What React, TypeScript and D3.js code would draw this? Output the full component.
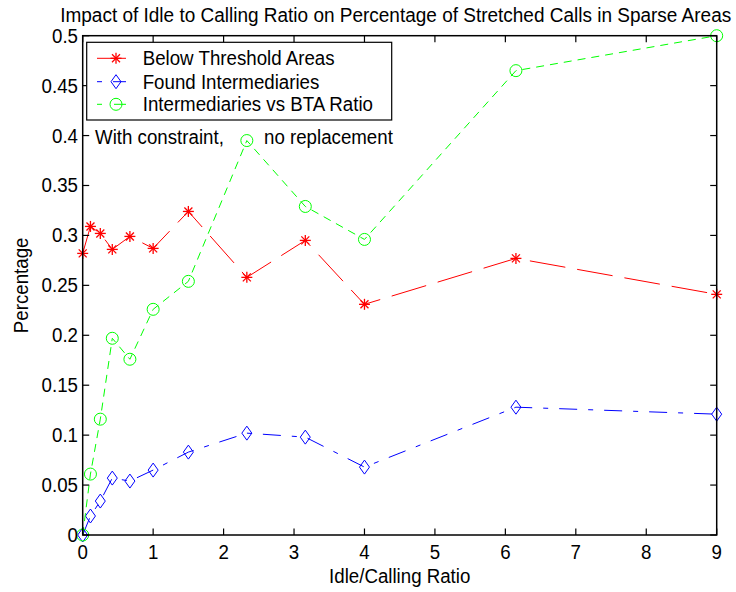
import React from "react";
import * as d3 from "d3";

const xTicks = [0, 1, 2, 3, 4, 5, 6, 7, 8, 9];
const yTicks = [0, 0.05, 0.1, 0.15, 0.2, 0.25, 0.3, 0.35, 0.4, 0.45, 0.5];
const yTickLabels = ["0", "0.05", "0.1", "0.15", "0.2", "0.25", "0.3", "0.35", "0.4", "0.45", "0.5"];

const ratios = [0, 0.11, 0.25, 0.42, 0.67, 1, 1.5, 2.33, 3.16, 4, 6.15, 9];
const belowThreshold = [0.282, 0.309, 0.302, 0.286, 0.299, 0.287, 0.324, 0.258, 0.295, 0.231, 0.277, 0.241];
const foundIntermediaries = [0, 0.019, 0.034, 0.057, 0.054, 0.065, 0.083, 0.102, 0.098, 0.068, 0.128, 0.121];
const interVsBta = [0, 0.061, 0.116, 0.197, 0.176, 0.226, 0.254, 0.395, 0.329, 0.296, 0.465, 0.5];

const seriesNames = ["Below Threshold Areas", "Found Intermediaries", "Intermediaries vs BTA Ratio"];

const W = 736;
const H = 592;
const L = 82.7, R = 716.7, T = 35.7, B = 535;
const FONT = "'Liberation Sans', Arial, Helvetica, sans-serif";
const SY = 1.07;
const FS = 18.7;

function Txt({ x, y, anchor, size, rotate, children }: { x: number; y: number; anchor?: string; size?: number; rotate?: number; children: React.ReactNode }) {
  return (
    <g transform={`translate(${x},${y})${rotate ? ` rotate(${rotate})` : ""} scale(1,${SY})`}>
      <text x={0} y={0} textAnchor={anchor || "start"} fontSize={size || FS} fill="#000">
        {children}
      </text>
    </g>
  );
}

function Marker({ kind, x, y, color }: { kind: string; x: number; y: number; color: string }) {
  if (kind === "star") {
    const r = 5.5, d = 4;
    return (
      <g stroke={color} strokeWidth={1.3}>
        <line x1={x - r} y1={y} x2={x + r} y2={y} />
        <line x1={x} y1={y - r} x2={x} y2={y + r} />
        <line x1={x - d} y1={y - d} x2={x + d} y2={y + d} />
        <line x1={x - d} y1={y + d} x2={x + d} y2={y - d} />
      </g>
    );
  }
  if (kind === "diamond") {
    const w = 5, h = 7;
    return (
      <path
        d={`M${x},${y - h}L${x + w},${y}L${x},${y + h}L${x - w},${y}Z`}
        fill="none"
        stroke={color}
        strokeWidth={1}
      />
    );
  }
  return <circle cx={x} cy={y} r={6} fill="none" stroke={color} strokeWidth={1} />;
}

export default function App() {
  const x = d3.scaleLinear().domain([0, 9]).range([L, R]);
  const y = d3.scaleLinear().domain([0, 0.5]).range([B, T]);

  const series = [
    { name: seriesNames[0], values: belowThreshold, color: "#ff0000", dash: "36,12", marker: "star" },
    { name: seriesNames[1], values: foundIntermediaries, color: "#0000ff", dash: "18,11,5,11", marker: "diamond" },
    { name: seriesNames[2], values: interVsBta, color: "#00ff00", dash: "8,6", marker: "circle" },
  ];

  const line = d3
    .line<number>()
    .x((_, i) => x(ratios[i]))
    .y((v) => y(v));

  const tickLen = 6.5;
  const legendRows = [58.3, 81.7, 104.3];

  return (
    <svg width={W} height={H} style={{ position: "absolute", left: 0, top: 0, background: "#fff" }} fontFamily={FONT}>
      <rect x={0} y={0} width={W} height={H} fill="#fff" />
      <Txt x={(L + R) / 2 - 4} y={22} anchor="middle" size={19}>
        Impact of Idle to Calling Ratio on Percentage of Stretched Calls in Sparse Areas
      </Txt>

      {series.map((s) => (
        <g key={s.name}>
          <path d={line(s.values) || ""} fill="none" stroke={s.color} strokeWidth={1} strokeDasharray={s.dash} />
          {s.values.map((v, i) => (
            <Marker key={i} kind={s.marker} x={x(ratios[i])} y={y(v)} color={s.color} />
          ))}
        </g>
      ))}

      <rect x={L} y={T} width={R - L} height={B - T} fill="none" stroke="#000" strokeWidth={1.5} />
      {xTicks.map((t) => (
        <g key={"x" + t}>
          <line x1={x(t)} x2={x(t)} y1={B} y2={B - tickLen} stroke="#000" strokeWidth={1.2} />
          <line x1={x(t)} x2={x(t)} y1={T} y2={T + tickLen} stroke="#000" strokeWidth={1.2} />
          <Txt x={x(t)} y={559} anchor="middle">{t}</Txt>
        </g>
      ))}
      {yTicks.map((t, i) => (
        <g key={"y" + t}>
          <line x1={L} x2={L + tickLen} y1={y(t)} y2={y(t)} stroke="#000" strokeWidth={1.2} />
          <line x1={R} x2={R - tickLen} y1={y(t)} y2={y(t)} stroke="#000" strokeWidth={1.2} />
          <Txt x={78} y={y(t) + 7} anchor="end">{yTickLabels[i]}</Txt>
        </g>
      ))}

      <Txt x={(L + R) / 2} y={583} anchor="middle">Idle/Calling Ratio</Txt>
      <Txt x={28} y={(T + B) / 2} anchor="middle" rotate={-90}>Percentage</Txt>

      <Txt x={95} y={144}>With constraint,</Txt>
      <Txt x={264} y={144}>no replacement</Txt>

      <rect x={86.7} y={42.3} width={305} height={77.7} fill="#fff" stroke="#000" strokeWidth={1.2} />
      {series.map((s, i) => (
        <g key={"lg" + i}>
          <line x1={97} x2={126} y1={legendRows[i]} y2={legendRows[i]} stroke={s.color} strokeWidth={1} strokeDasharray={i === 0 ? undefined : i === 1 ? "5,11,20,0" : "5,12,20,0"} />
          <Marker kind={s.marker} x={116} y={legendRows[i]} color={s.color} />
          <Txt x={142.7} y={legendRows[i] + 7}>{s.name}</Txt>
        </g>
      ))}
    </svg>
  );
}
